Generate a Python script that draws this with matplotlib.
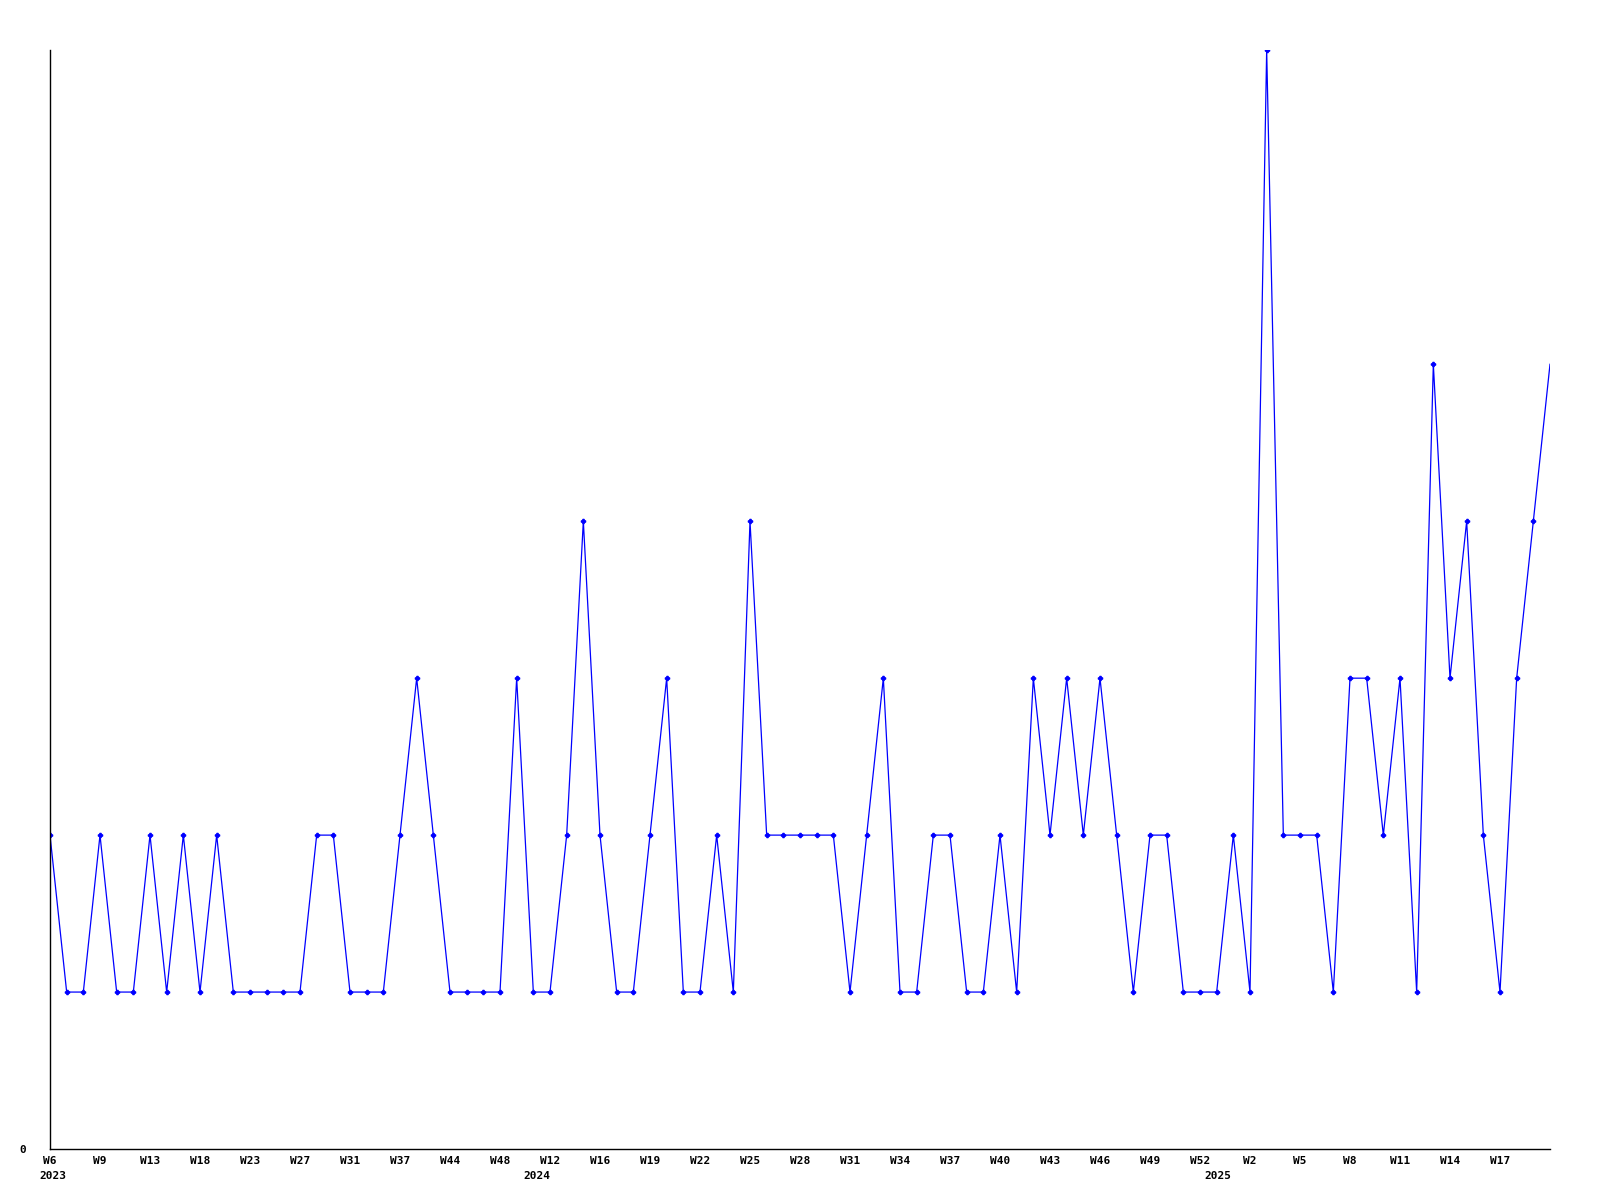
import matplotlib
matplotlib.use("Agg")
import matplotlib.pyplot as plt

# weekly counts, one value per point (91 points)
counts = [2, 1, 1, 2, 1, 1, 2, 1, 2, 1,
          2, 1, 1, 1, 1, 1, 2, 2, 1, 1,
          1, 2, 3, 2, 1, 1, 1, 1, 3, 1,
          1, 2, 4, 2, 1, 1, 2, 3, 1, 1,
          2, 1, 4, 2, 2, 2, 2, 2, 1, 2,
          3, 1, 1, 2, 2, 1, 1, 2, 1, 3,
          2, 3, 2, 3, 2, 1, 2, 2, 1, 1,
          1, 2, 1, 7, 2, 2, 2, 1, 3, 3,
          2, 3, 1, 5, 3, 4, 2, 1, 3, 4,
          5]

# week labels shown every 3rd point
week_labels = ["W6", "W9", "W13", "W18", "W23", "W27", "W31", "W37", "W44", "W48",
               "W12", "W16", "W19", "W22", "W25", "W28", "W31", "W34", "W37", "W40",
               "W43", "W46", "W49", "W52", "W2", "W5", "W8", "W11", "W14", "W17"]
week_pos = list(range(0, 90, 3))

years = ["2023", "2024", "2025"]
year_pos = [0.2, 29.2, 70.1]

fig = plt.figure(figsize=(16, 12), dpi=100)
ax = fig.add_axes([0.03125, 0.0425, 0.9375, 0.9155])

x = list(range(len(counts)))
ax.plot(x, counts, color="#0000ff", linewidth=0.9, marker="P", markersize=3,
        markevery=list(range(len(counts) - 1)))

ax.set_xlim(0, len(counts) - 1)
ax.set_ylim(0, 7)

for s in ["top", "right"]:
    ax.spines[s].set_visible(False)
ax.spines["left"].set_linewidth(1)
ax.spines["bottom"].set_linewidth(1)

ax.set_xticks(week_pos)
ax.set_xticklabels(week_labels, fontfamily="DejaVu Sans Mono", fontweight="bold", fontsize=8)
ax.tick_params(axis="x", length=0, pad=5)
ax.set_yticks([0])
ax.set_yticklabels(["0"], fontfamily="DejaVu Sans Mono", fontweight="bold", fontsize=8)
ax.tick_params(axis="y", length=0, pad=17)

for yr, p in zip(years, year_pos):
    ax.text(p, -0.175, yr, ha="center", va="center", fontfamily="DejaVu Sans Mono",
            fontweight="bold", fontsize=8, clip_on=False)

fig.savefig("out.png", dpi=100)
